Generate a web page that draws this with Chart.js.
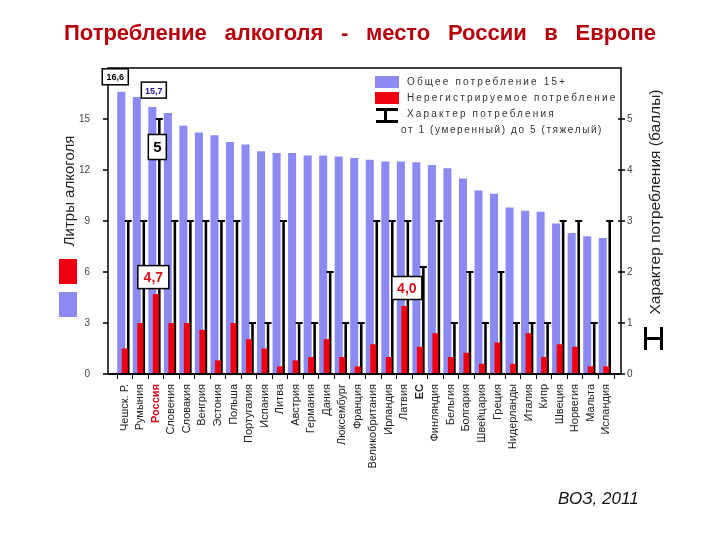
<!DOCTYPE html>
<html lang="ru">
<head>
<meta charset="UTF-8">
<title>Потребление алкоголя - место России в Европе</title>
<style>
    body{margin:0;background:#fff;}
    .wrap{position:relative;width:720px;height:540px;font-family:Arial,"Liberation Sans",sans-serif;}
    #chart{position:absolute;left:0;top:0;}
    .title{position:absolute;left:0;top:20px;width:720px;text-align:center;font-weight:bold;font-size:22px;color:#b8000c;word-spacing:11.5px;}
    .lg{position:absolute;font-size:10px;color:#333;letter-spacing:2.15px;white-space:nowrap;line-height:12px;}
    .sq{position:absolute;}
    .vtitle{position:absolute;font-size:15px;color:#222;white-space:nowrap;transform:translate(-50%,-50%) rotate(-90deg);}
    .src{position:absolute;left:558px;top:489px;font-size:17px;font-style:italic;color:#111;}
    .capsym{position:absolute;box-sizing:border-box;}
</style>
</head>
<body>
<div class="wrap">
    <canvas id="chart" width="720" height="540"></canvas>
    <div class="title">Потребление алкоголя - место России в Европе</div>

    <!-- легенда внутри графика -->
    <div class="sq" style="left:375px;top:76px;width:24px;height:12px;background:#8a8af2;"></div>
    <div class="lg" style="left:407px;top:76px;">Общее потребление 15+</div>
    <div class="sq" style="left:375px;top:92px;width:24px;height:12px;background:#ee0010;"></div>
    <div class="lg" style="left:407px;top:92px;">Нерегистрируемое потребление</div>
    <div class="capsym" style="left:376px;top:108px;width:22px;height:15px;border-top:3px solid #000;border-bottom:3px solid #000;">
        <div style="position:absolute;left:8px;top:0;width:3px;height:100%;background:#000;"></div>
    </div>
    <div class="lg" style="left:407px;top:108px;">Характер потребления</div>
    <div class="lg" style="left:401px;top:124px;letter-spacing:1.6px;">от 1 (умеренный) до 5 (тяжелый)</div>

    <!-- подписи осей -->
    <div class="vtitle" style="left:68px;top:191px;">Литры  алкоголя</div>
    <div class="sq" style="left:59px;top:259px;width:18px;height:25px;background:#ee0010;"></div>
    <div class="sq" style="left:59px;top:292px;width:18px;height:25px;background:#8a8af2;"></div>
    <div class="vtitle" style="left:655px;top:202px;font-size:15.5px;">Характер потребления (баллы)</div>
    <div class="capsym" style="left:644px;top:327px;width:19px;height:23px;border-left:3px solid #000;border-right:3px solid #000;">
        <div style="position:absolute;left:0;top:10px;width:100%;height:3px;background:#000;"></div>
    </div>

    <div class="src">ВОЗ, 2011</div>
</div>

<script src="https://cdn.jsdelivr.net/npm/chart.js@4.4.1/dist/chart.umd.min.js"></script>
<script>
    // страны
    const countries = ['Чешск. Р.', 'Румыния', 'Россия', 'Словения', 'Словакия', 'Венгрия', 'Эстония', 'Польша',
        'Португалия', 'Испания', 'Литва', 'Австрия', 'Германия', 'Дания', 'Люксембург', 'Франция',
        'Великобритания', 'Ирландия', 'Латвия', 'ЕС', 'Финляндия', 'Бельгия', 'Болгария', 'Швейцария',
        'Греция', 'Нидерланды', 'Италия', 'Кипр', 'Швеция', 'Норвегия', 'Мальта', 'Исландия'];

    // общее потребление 15+, литры
    const totalLitres = [16.6, 16.3, 15.7, 15.35, 14.6, 14.2, 14.05, 13.65,
        13.5, 13.1, 13.0, 13.0, 12.85, 12.85, 12.8, 12.7,
        12.6, 12.5, 12.5, 12.45, 12.3, 12.1, 11.5, 10.8,
        10.6, 9.8, 9.6, 9.55, 8.85, 8.3, 8.1, 8.0];

    // нерегистрируемое потребление, литры
    const unrecorded = [1.5, 3.0, 4.7, 3.0, 3.0, 2.6, 0.8, 3.0,
        2.05, 1.5, 0.45, 0.8, 1.0, 2.05, 1.0, 0.45,
        1.75, 1.0, 4.0, 1.6, 2.4, 1.0, 1.25, 0.6,
        1.85, 0.6, 2.4, 1.0, 1.75, 1.6, 0.45, 0.45];

    // характер потребления, баллы 1..5
    const pattern = [3, 3, 5, 3, 3, 3, 3, 3,
        1, 1, 3, 1, 1, 2, 1, 1,
        3, 3, 3, 2.1, 3, 1, 2, 1,
        2, 1, 1, 1, 3, 3, 1, 3];

    const litreTicks = [0, 3, 6, 9, 12, 15];
    const scoreTicks = [0, 1, 2, 3, 4, 5];

    const russia = countries.indexOf('Россия');
    const latvia = countries.indexOf('Латвия');
    const eu = countries.indexOf('ЕС');

    const fmt = v => v.toFixed(1).replace('.', ',');

    // засечки на концах "усов"
    const capPlugin = {
        id: 'caps',
        afterDatasetsDraw(chart) {
            const ctx = chart.ctx;
            ctx.save();
            ctx.strokeStyle = '#000';
            ctx.lineWidth = 2;
            chart.getDatasetMeta(2).data.forEach(el => {
                ctx.beginPath();
                ctx.moveTo(el.x - 3.5, el.y);
                ctx.lineTo(el.x + 3.5, el.y);
                ctx.moveTo(el.x - 3.5, el.base);
                ctx.lineTo(el.x + 3.5, el.base);
                ctx.stroke();
            });
            ctx.restore();
        }
    };

    // рамка графика чуть шире области столбцов, как в оригинале
    const framePlugin = {
        id: 'frame',
        afterDatasetsDraw(chart) {
            const { ctx, chartArea: a, scales } = chart;
            const left = a.left - 9;
            const right = a.right + 7;
            ctx.save();
            ctx.strokeStyle = '#000';
            ctx.lineWidth = 1.5;
            ctx.beginPath();
            ctx.moveTo(left, a.bottom);
            ctx.lineTo(left, a.top);
            ctx.lineTo(right, a.top);
            ctx.lineTo(right, a.bottom);
            litreTicks.forEach(v => {
                const y = scales.y.getPixelForValue(v);
                ctx.moveTo(left - 5, y);
                ctx.lineTo(left, y);
            });
            scoreTicks.forEach(v => {
                const y = scales.y2.getPixelForValue(v);
                ctx.moveTo(right - 3, y);
                ctx.lineTo(right + 4, y);
            });
            ctx.stroke();
            ctx.lineWidth = 2;
            ctx.beginPath();
            ctx.moveTo(left, a.bottom);
            ctx.lineTo(right, a.bottom);
            ctx.stroke();
            ctx.restore();
        }
    };

    // рамки с подписями значений
    function drawBox(ctx, cx, cy, w, h, text, color, size) {
        ctx.fillStyle = '#fff';
        ctx.fillRect(cx - w / 2, cy - h / 2, w, h);
        ctx.strokeStyle = '#000';
        ctx.lineWidth = 1.5;
        ctx.strokeRect(cx - w / 2, cy - h / 2, w, h);
        ctx.fillStyle = color;
        ctx.font = 'bold ' + size + 'px Arial';
        ctx.textAlign = 'center';
        ctx.textBaseline = 'middle';
        ctx.fillText(text, cx, cy + 1);
    }

    const boxPlugin = {
        id: 'boxes',
        afterDatasetsDraw(chart) {
            const ctx = chart.ctx;
            const red = chart.getDatasetMeta(0).data;
            const blue = chart.getDatasetMeta(1).data;
            const wh = chart.getDatasetMeta(2).data;
            ctx.save();
            drawBox(ctx, blue[0].x - 6, blue[0].y - 15, 26, 16, fmt(totalLitres[0]), '#000', 9);
            drawBox(ctx, blue[russia].x + 1.5, blue[russia].y - 17, 25, 16, fmt(totalLitres[russia]), '#1a1a9a', 9);
            drawBox(ctx, wh[russia].x - 2, wh[russia].y + 28, 18, 25, String(pattern[russia]), '#000', 15);
            drawBox(ctx, red[russia].x - 2.5, red[russia].y - 17, 31, 23, fmt(unrecorded[russia]), '#d8101c', 14);
            drawBox(ctx, red[latvia].x + 2.5, red[latvia].y - 18, 30, 23, fmt(unrecorded[latvia]), '#d8101c', 14);
            ctx.restore();
        }
    };

    new Chart(document.getElementById('chart'), {
        type: 'bar',
        data: {
            labels: countries,
            datasets: [
                {
                    label: 'Нерегистрируемое потребление',
                    data: unrecorded,
                    yAxisID: 'y',
                    grouped: false,
                    order: 0,
                    backgroundColor: '#ee0010',
                    categoryPercentage: 0.9,
                    barPercentage: 0.43
                },
                {
                    label: 'Общее потребление 15+',
                    data: totalLitres,
                    yAxisID: 'y',
                    stack: 'total',
                    order: 1,
                    backgroundColor: '#8a8af2',
                    categoryPercentage: 0.9,
                    barPercentage: 1.15
                },
                {
                    label: 'Характер потребления',
                    data: pattern,
                    yAxisID: 'y2',
                    stack: 'pattern',
                    order: 2,
                    backgroundColor: '#000',
                    categoryPercentage: 0.9,
                    barPercentage: 0.37
                }
            ]
        },
        options: {
            responsive: false,
            animation: false,
            layout: { padding: { top: 68, left: 0, right: 0, bottom: 0 } },
            plugins: {
                legend: { display: false },
                tooltip: { enabled: false }
            },
            scales: {
                x: {
                    type: 'category',
                    position: 'bottom',
                    offset: true,
                    stacked: false,
                    grid: { offset: true, drawOnChartArea: false, tickLength: 5, color: '#000' },
                    border: { display: false },
                    ticks: {
                        autoSkip: false,
                        minRotation: 90,
                        maxRotation: 90,
                        padding: 5,
                        color: c => c.index === russia ? '#e0001a' : '#222',
                        font: c => ({ family: 'Arial', size: 11, weight: (c.index === russia || c.index === eu) ? 'bold' : 'normal' })
                    },
                    afterFit: s => { s.height = 166; }
                },
                y: {
                    position: 'left',
                    min: 0,
                    max: 18,
                    afterBuildTicks: s => { s.ticks = litreTicks.map(v => ({ value: v })); },
                    grid: { display: false, drawTicks: false },
                    border: { display: false },
                    ticks: { padding: 27, color: '#444', font: { family: 'Arial', size: 10 } },
                    afterFit: s => { s.width = 117; }
                },
                y2: {
                    position: 'right',
                    min: 0,
                    max: 6,
                    afterBuildTicks: s => { s.ticks = scoreTicks.map(v => ({ value: v })); },
                    grid: { display: false, drawTicks: false },
                    border: { display: false },
                    ticks: { padding: 13, color: '#444', font: { family: 'Arial', size: 10 } },
                    afterFit: s => { s.width = 106; }
                }
            }
        },
        plugins: [capPlugin, framePlugin, boxPlugin]
    });
</script>
</body>
</html>
